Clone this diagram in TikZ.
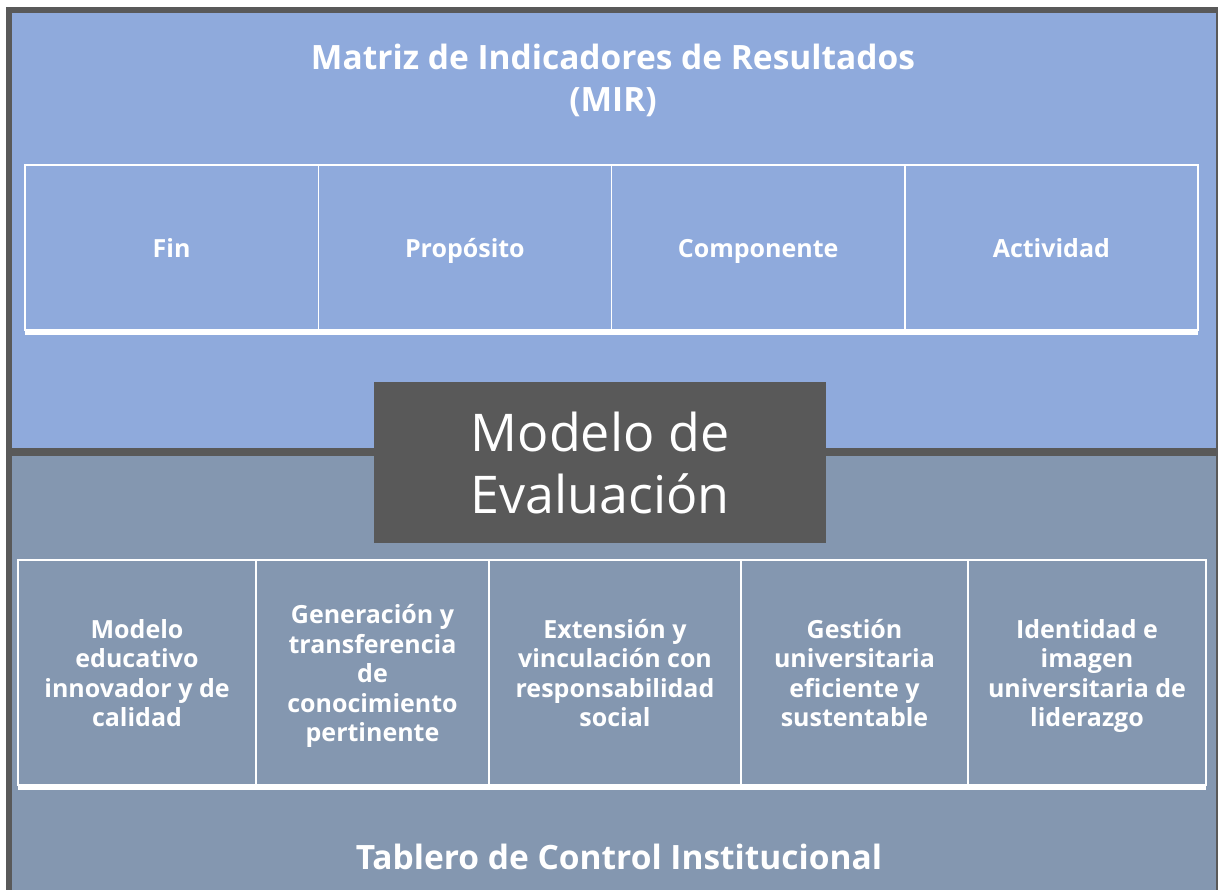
\documentclass[tikz,border=0pt]{standalone}
\usepackage{fontspec}
\setmainfont{Open Sans}
\usetikzlibrary{positioning}
\definecolor{mirblue}{HTML}{8FAADC}
\definecolor{tcigray}{HTML}{8497B0}
\definecolor{darkframe}{HTML}{595959}
\tikzset{
  celltext/.style={
    text=white, align=center, inner sep=0pt,
    font=\fontsize{25}{29.5}\selectfont\bfseries,
    execute at begin node=\strut, execute at end node=\strut,
  },
  cell/.style={draw=white, line width=1.5pt, outer sep=0pt, inner sep=0pt},
  mircell/.style={cell, celltext, minimum width=293.25pt, minimum height=165pt,
    execute at begin node={\rule{0pt}{29.6pt}}},
  tcicell/.style={cell, minimum height=225pt},
  bigtitle/.style={text=white, align=center, font=\fontsize{33.5}{42}\selectfont\bfseries},
}

\begin{document}
\begin{tikzpicture}[x=1pt,y=-1pt]
                \useasboundingbox (0,0) rectangle (1218,890);

                % frame and the two panels
                \fill[darkframe] (6,7) rectangle (1218,890);
                \fill[mirblue] (12,13) rectangle (1216,448);
                \fill[tcigray] (12,456) rectangle (1216,890);

                % MIR
                \node[bigtitle] (mirtitle) at (613,80){Matriz de Indicadores de Resultados\\(MIR)};
                \node[mircell, anchor=north west] (fin) at (25,165){Fin};
                \node[mircell, right=0pt of fin] (proposito){Propósito};
                \node[mircell, right=0pt of proposito] (componente){Componente};
                \node[mircell, right=0pt of componente] (actividad){Actividad};
                \draw[white, line width=6pt] ([yshift=-2pt]fin.south west) -- ([yshift=-2pt]actividad.south east);

                % centre box
                \node[fill=darkframe, minimum width=452pt, minimum height=161pt, text=white,
                      align=center, font=\fontsize{52}{62}\selectfont] (modelo) at (600,462.5){Modelo de\\Evaluación};

                % tablero de control
                \node[tcicell, minimum width=238pt, anchor=north west] (educativo) at (18,560){};
                \node[tcicell, minimum width=233pt, right=0pt of educativo] (generacion){};
                \node[tcicell, minimum width=252pt, right=0pt of generacion] (extension){};
                \node[tcicell, minimum width=227pt, right=0pt of extension] (gestion){};
                \node[tcicell, minimum width=238pt, right=0pt of gestion] (identidad){};
                \draw[white, line width=6pt] ([yshift=-2pt]educativo.south west) -- ([yshift=-2pt]identidad.south east);

                \node[celltext] (educativotxt) at ([yshift=-5pt]educativo.center){Modelo\\educativo\\innovador y de\\calidad};
                \node[celltext] (generaciontxt) at ([yshift=-5pt]generacion.center){Generación y\\transferencia\\de\\conocimiento\\pertinente};
                \node[celltext] (extensiontxt) at ([yshift=-5pt]extension.center){Extensión y\\vinculación con\\responsabilidad\\social};
                \node[celltext] (gestiontxt) at ([yshift=-5pt]gestion.center){Gestión\\universitaria\\eficiente y\\sustentable};
                \node[celltext] (identidadtxt) at ([yshift=-5pt]identidad.center){Identidad e\\imagen\\universitaria de\\liderazgo};

                \node[bigtitle] (tablero) at (619,857){Tablero de Control Institucional};

        \end{tikzpicture}
\end{document}
